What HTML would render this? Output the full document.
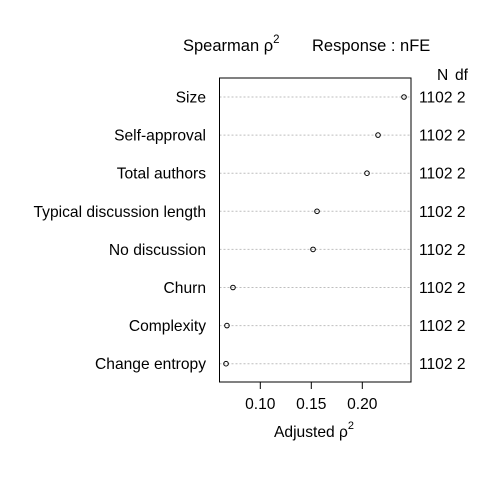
<!DOCTYPE html>
<html><head><meta charset="utf-8"><style>
body{margin:0;background:#fff;}
svg text{font-family:"Liberation Sans",Arial,sans-serif;}
</style></head><body>
<svg width="480" height="480" viewBox="0 0 480 480">
<rect width="480" height="480" fill="#fff"/>
<g id="chart"></g>
</svg>
<script>
const categories=["Size","Self-approval","Total authors","Typical discussion length","No discussion","Churn","Complexity","Change entropy"];
const values=[0.2409,0.2154,0.2046,0.1556,0.1517,0.0732,0.0673,0.0664];
const nValues=[1102,1102,1102,1102,1102,1102,1102,1102];
const dfValues=[2,2,2,2,2,2,2,2];
const ticks=[0.10,0.15,0.20];
const tickLabels=["0.10","0.15","0.20"];
const NS="http://www.w3.org/2000/svg";
const g=document.getElementById('chart');
const L=219.5,R=411,T=78,B=382;
function x(v){return 260.3+(v-0.10)*1020;}
function y(i){return 97+i*38.1;}
function mk(t,a,txt){const e=document.createElementNS(NS,t);for(const k in a)e.setAttribute(k,a[k]);if(txt!==undefined)e.textContent=txt;g.appendChild(e);return e;}
let e;
categories.forEach((c,i)=>{
 e=mk('line',{x1:L,x2:R,y1:y(i),y2:y(i),stroke:'#bebebe','stroke-dasharray':'2,2','stroke-width':1});
 
 
 e=mk('text',{x:206,y:y(i)+5.5,'text-anchor':'end','font-size':15.6},c);
 
 
 e=mk('circle',{cx:x(values[i]),cy:y(i),r:2.3,fill:'none',stroke:'#000','stroke-width':1});
 
 
 e=mk('text',{x:419,y:y(i)+5.5,'font-size':15.6},nValues[i]+' '+dfValues[i]);
 
 
});
e=mk('rect',{x:L,y:T,width:R-L,height:B-T,fill:'none',stroke:'#000','stroke-width':1});


ticks.forEach((t,i)=>{
 e=mk('line',{x1:x(t),x2:x(t),y1:B,y2:B+7,stroke:'#000'});
 
 
 e=mk('text',{x:x(t),y:409,'text-anchor':'middle','font-size':15.6},tickLabels[i]);
 
 
});
e=mk('text',{x:274,y:437,'font-size':15.6});
e.innerHTML='Adjusted ρ<tspan dy="-8" font-size="11">2</tspan>';


e=mk('text',{x:183,y:51,'font-size':16.5});
e.innerHTML='Spearman ρ<tspan dy="-8" font-size="11.5">2</tspan>';


e=mk('text',{x:312,y:51,'font-size':16.5},'Response : nFE');


e=mk('text',{x:437,y:80,'font-size':15.6},'N');


e=mk('text',{x:455,y:80,'font-size':15.6},'df');


</script>
</body></html>
